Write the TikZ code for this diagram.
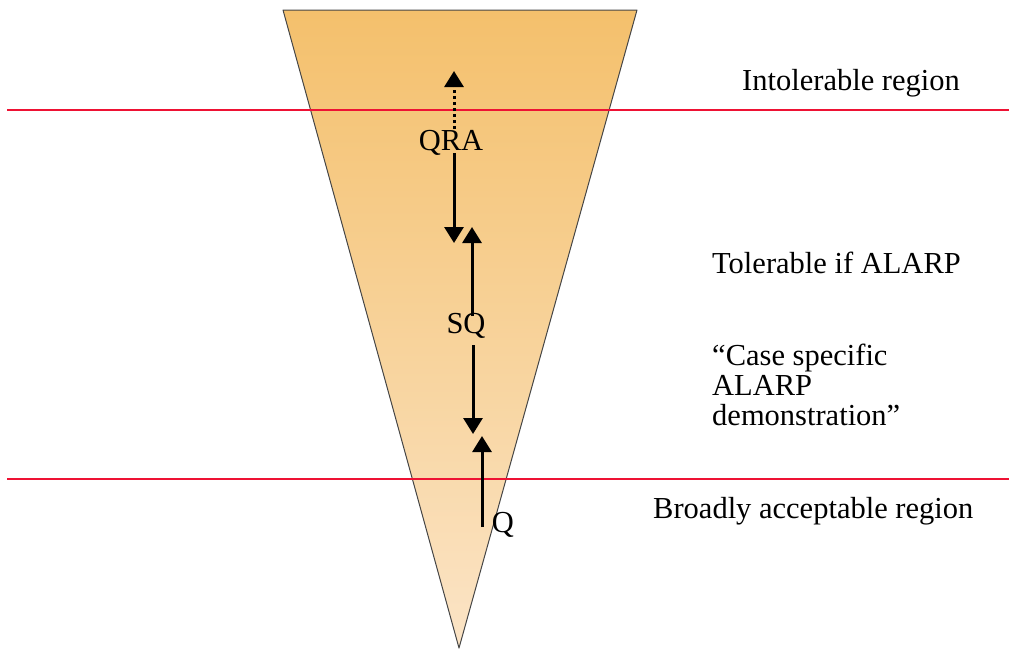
\documentclass[tikz,border=0pt]{standalone}
\usepackage{fontspec}
\setmainfont{Liberation Serif}
\usetikzlibrary{arrows.meta}
\definecolor{conetop}{RGB}{244,192,108}
\definecolor{conebottom}{RGB}{251,228,198}
\definecolor{bandline}{RGB}{238,18,52}
\definecolor{coneedge}{RGB}{70,70,70}
\tikzset{
  lbl/.style={inner sep=0pt, anchor=base west, font=\fontsize{30.5}{31}\selectfont},
  tag/.style={inner sep=0pt, anchor=base, font=\fontsize{30.5}{31}\selectfont},
  move/.style={line width=3pt, -{Triangle[width=19pt,length=16pt]}},
  boundary/.style={bandline, line width=2.4pt}
}
\begin{document}
\begin{tikzpicture}[x=1pt,y=-1pt]
  \useasboundingbox (0,0) rectangle (1009,651);
  % risk cone
  \shade[top color=conetop, bottom color=conebottom] (283,10) -- (637,10) -- (459,648) -- cycle;
  \draw[coneedge, line width=1pt, line join=round] (283,10) -- (637,10) -- (459,648) -- cycle;
  % region boundaries
  \draw[boundary] (7,110) -- (1009,110);
  \draw[boundary] (7,479) -- (1009,479);
  % labels on the cone
  \node[tag] (qra) at (451,150) {QRA};
  \node[tag] (sq) at (466,333) {SQ};
  \node[tag] (q) at (503,532) {Q};
  % arrow end points
  \coordinate (a1s) at (454,129);
  \coordinate (a1e) at (454,71);
  \coordinate (a2s) at (454,153);
  \coordinate (a2e) at (454,243);
  \coordinate (a3s) at (472,316);
  \coordinate (a3e) at (472,227);
  \coordinate (a4s) at (473,345);
  \coordinate (a4e) at (473,434);
  \coordinate (a5s) at (482,527);
  \coordinate (a5e) at (482,436);
  \draw[move, dash pattern=on 3pt off 3pt] (a1s) -- (a1e);
  \draw[move] (a2s) -- (a2e);
  \draw[move] (a3s) -- (a3e);
  \draw[move] (a4s) -- (a4e);
  \draw[move] (a5s) -- (a5e);
  % region descriptions
  \node[lbl] (intol) at (742,90) {Intolerable region};
  \node[lbl] (tol) at (712,273) {Tolerable if ALARP};
  \node[lbl] (case1) at (712,365) {“Case specific};
  \node[lbl] (case2) at (712,395) {ALARP};
  \node[lbl] (case3) at (712,425) {demonstration”};
  \node[lbl] (broad) at (653,518) {Broadly acceptable region};
\end{tikzpicture}
\end{document}
